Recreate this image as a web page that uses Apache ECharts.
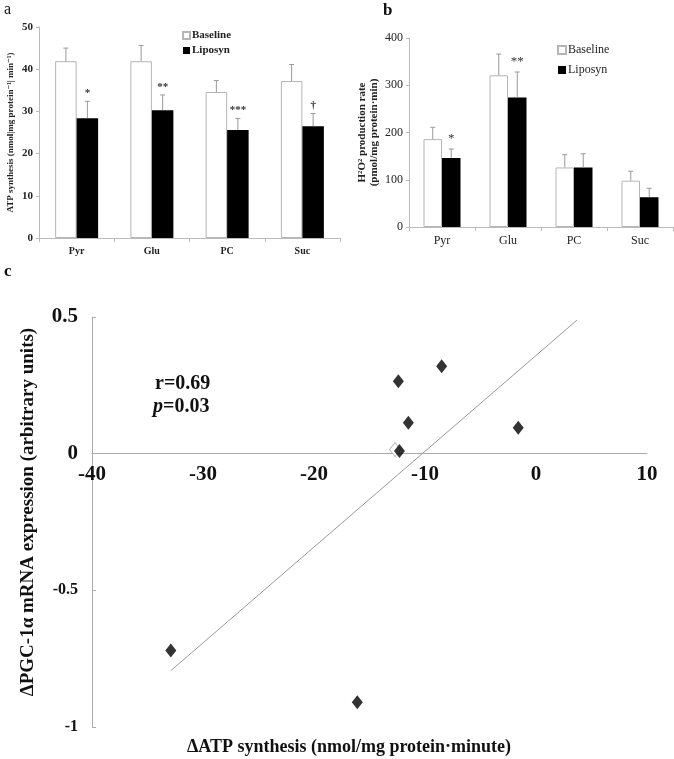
<!DOCTYPE html>
<html><head><meta charset="utf-8">
<script src="https://cdn.jsdelivr.net/npm/echarts@6/dist/echarts.min.js"></script>
<style>html,body{margin:0;padding:0;background:#fff}#c{width:674px;height:759px}</style>
</head><body><div id="c"></div>
<script>
// ---- data ----
const categories = ['Pyr','Glu','PC','Suc'];
const atpBaseline = [41.9, 41.9, 34.6, 37.2];
const atpBaselineErr = [45.0, 45.6, 37.3, 41.1];   // top of error bar
const atpLiposyn = [28.4, 30.3, 25.6, 26.5];
const atpLiposynErr = [32.4, 33.9, 28.3, 29.5];
const atpSig = ['*','**','***','\u2020'];

const h2o2Baseline = [186, 321, 126, 98];
const h2o2BaselineErr = [211, 366, 153, 118];
const h2o2Liposyn = [146, 274, 126, 63];
const h2o2LiposynErr = [165, 328, 155, 82];
const h2o2Sig = ['*','**','',''];

const deltaATP = [-12.4, -8.5, -11.5, -1.6, -12.3, -32.9, -16.1];
const deltaPGC = [0.265, 0.32, 0.113, 0.095, 0.01, -0.72, -0.909];
const ghostPoint = [[-12.7, 0.015]];
const trendRangeX = [-32.9, 3.7];

const aTicks = [0, 50, 10];
const bTicks = [0, 400, 100];
const cXTicks = [-40, 10, 10];
const cYTicks = [-1, 0.5, 0.5];

// ---- regression for trend line ----
const n = deltaATP.length;
const mx = deltaATP.reduce((s,v)=>s+v,0)/n, my = deltaPGC.reduce((s,v)=>s+v,0)/n;
let sxy=0, sxx=0;
for(let i=0;i<n;i++){sxy+=(deltaATP[i]-mx)*(deltaPGC[i]-my);sxx+=(deltaATP[i]-mx)**2;}
const slope = sxy/sxx, icpt = my - slope*mx;
const trendLine = trendRangeX.map(x=>[x, slope*x+icpt]);

const SERIF = '"Liberation Serif","DejaVu Serif",serif';
const chart = echarts.init(document.getElementById('c'), null, {renderer:'canvas'});

const gridC = {left:92, top:317, width:555, height:410};
const zeroOffset = -gridC.height * (0 - cYTicks[0]) / (cYTicks[1] - cYTicks[0]);

function errSeries(name, xIdx, yIdx, vals, tops, sign, bw, sig, sigFont, sigGap){
  return {
    type:'custom', name: name+'err', xAxisIndex:xIdx, yAxisIndex:yIdx, z:5,
    data: vals.map((v,i)=>[i, v, tops[i]]),
    renderItem(params, api){
      const i = api.value(0);
      const p0 = api.coord([i, api.value(1)]);
      const p1 = api.coord([i, api.value(2)]);
      const cx = p0[0] + sign*bw/2;
      const children = [
        {type:'line', shape:{x1:cx,y1:p0[1],x2:cx,y2:p1[1]}, style:{stroke:'#9a9a9a',lineWidth:1}},
        {type:'line', shape:{x1:cx-2.5,y1:p1[1],x2:cx+2.5,y2:p1[1]}, style:{stroke:'#9a9a9a',lineWidth:1}}
      ];
      if(sig && sig[params.dataIndex]){
        children.push({type:'text', style:{text:sig[params.dataIndex], x:cx, y:p1[1]-sigGap,
          textAlign:'center', textVerticalAlign:'middle', font:sigFont, fill:'#333'}});
      }
      return {type:'group', children};
    }
  };
}

const option = {
  animation:false,
  backgroundColor:'#fff',
  grid:[
    {left:39, top:27, width:301, height:211},
    {left:409, top:38, width:264, height:189},
    gridC
  ],
  legend:[
    {data:['Baseline','Liposyn'], orient:'vertical', left:177, top:25, itemWidth:7, itemHeight:7, itemGap:4,
     textStyle:{fontFamily:SERIF, fontWeight:'bold', fontSize:11, color:'#222', padding:[0,0,0,-3]}, icon:'rect', selectedMode:false},
    {data:['Baseline ','Liposyn '], orient:'vertical', left:552, top:39, itemWidth:8, itemHeight:8, itemGap:8,
     textStyle:{fontFamily:SERIF, fontSize:12, color:'#222', padding:[0,0,0,-3]}, icon:'rect', selectedMode:false}
  ],
  xAxis:[
    {gridIndex:0, type:'category', data:categories,
     axisLine:{lineStyle:{color:'#bbb'}}, axisTick:{show:true, length:4, lineStyle:{color:'#bbb'}},
     axisLabel:{fontFamily:SERIF, fontWeight:'bold', fontSize:10, color:'#222', margin:8}},
    {gridIndex:1, type:'category', data:categories,
     axisLine:{lineStyle:{color:'#bbb'}}, axisTick:{show:true, length:4, lineStyle:{color:'#bbb'}},
     axisLabel:{fontFamily:SERIF, fontSize:12, color:'#222', margin:8}},
    {gridIndex:2, type:'value', min:cXTicks[0], max:cXTicks[1], interval:cXTicks[2], position:'bottom', offset:zeroOffset,
     axisLine:{onZero:false, lineStyle:{color:'#aaa'}}, axisTick:{show:false}, splitLine:{show:false},
     axisLabel:{fontFamily:SERIF, fontWeight:'bold', fontSize:21, color:'#111', margin:10}}
  ],
  yAxis:[
    {gridIndex:0, type:'value', min:aTicks[0], max:aTicks[1], interval:aTicks[2],
     axisLine:{show:true, lineStyle:{color:'#bbb'}}, axisTick:{show:true, length:3, lineStyle:{color:'#bbb'}}, splitLine:{show:false},
     axisLabel:{fontFamily:SERIF, fontWeight:'bold', fontSize:11, color:'#222', margin:6},
     name:'ATP synthesis (nmol|mg protein\u207B\u00B9| min\u207B\u00B9)', nameLocation:'middle', nameGap:24, nameRotate:90,
     nameTextStyle:{fontFamily:SERIF, fontWeight:'bold', fontSize:9, color:'#222'}},
    {gridIndex:1, type:'value', min:bTicks[0], max:bTicks[1], interval:bTicks[2],
     axisLine:{show:true, lineStyle:{color:'#bbb'}}, axisTick:{show:true, length:3, lineStyle:{color:'#bbb'}}, splitLine:{show:false},
     axisLabel:{fontFamily:SERIF, fontSize:12, color:'#222', margin:6},
     name:'H\u00B2O\u00B2 production rate\n(pmol/mg protein\u00B7min)', nameLocation:'middle', nameGap:29, nameRotate:90,
     nameTextStyle:{fontFamily:SERIF, fontWeight:'bold', fontSize:11, color:'#222', lineHeight:12}},
    {gridIndex:2, type:'value', min:cYTicks[0], max:cYTicks[1], interval:cYTicks[2],
     axisLine:{show:true, onZero:false, lineStyle:{color:'#aaa'}}, axisTick:{show:true, inside:true, length:4, lineStyle:{color:'#aaa'}}, splitLine:{show:false},
     axisLabel:{margin:14, formatter:v=> (v>=0 ? '{b|'+v+'}' : '{s|'+v+'}'),
       rich:{b:{fontFamily:SERIF, fontWeight:'bold', fontSize:21, color:'#111'}, s:{fontFamily:SERIF, fontWeight:'bold', fontSize:16, color:'#111'}}}}
  ],
  series:[
    {type:'bar', name:'Baseline', xAxisIndex:0, yAxisIndex:0, data:atpBaseline, barWidth:21.5, barGap:'0%',
     itemStyle:{color:'#fff', borderColor:'#b5b5b5', borderWidth:1}},
    {type:'bar', name:'Liposyn', xAxisIndex:0, yAxisIndex:0, data:atpLiposyn, barWidth:21.5, barGap:'0%',
     itemStyle:{color:'#000'}},
    errSeries('a0',0,0,atpBaseline,atpBaselineErr,-1,21.5,null),
    errSeries('a1',0,0,atpLiposyn,atpLiposynErr,1,21.5,atpSig,'bold 11px '+SERIF,8),
    {type:'bar', name:'Baseline ', xAxisIndex:1, yAxisIndex:1, data:h2o2Baseline, barWidth:18.5, barGap:'0%',
     itemStyle:{color:'#fff', borderColor:'#b5b5b5', borderWidth:1}},
    {type:'bar', name:'Liposyn ', xAxisIndex:1, yAxisIndex:1, data:h2o2Liposyn, barWidth:18.5, barGap:'0%',
     itemStyle:{color:'#000'}},
    errSeries('b0',1,1,h2o2Baseline,h2o2BaselineErr,-1,18.5,null),
    errSeries('b1',1,1,h2o2Liposyn,h2o2LiposynErr,1,18.5,h2o2Sig,'13px '+SERIF,10),
    {type:'line', name:'trend', xAxisIndex:2, yAxisIndex:2, data:trendLine, showSymbol:false, symbol:'none',
     lineStyle:{color:'#999', width:1}, z:1},
    {type:'scatter', name:'ghost', xAxisIndex:2, yAxisIndex:2, data:ghostPoint, symbol:'diamond', symbolSize:[11,14],
     itemStyle:{color:'#fff', borderColor:'#aaa', borderWidth:1}, z:2},
    {type:'scatter', name:'pts', xAxisIndex:2, yAxisIndex:2, data:deltaATP.map((x,i)=>[x, deltaPGC[i]]),
     symbol:'diamond', symbolSize:[11,14], itemStyle:{color:'#000'}, z:3}
  ],
  graphic:[
    {type:'text', left:4, top:2, style:{text:'a', font:'16px '+SERIF, fill:'#111'}},
    {type:'text', left:383, top:2, style:{text:'b', font:'bold 17px '+SERIF, fill:'#111'}},
    {type:'text', left:4, top:263, style:{text:'c', font:'bold 17px '+SERIF, fill:'#111'}},
    {type:'text', left:155, top:374, style:{text:'r=0.69', font:'bold 20px '+SERIF, fill:'#111'}},
    {type:'text', left:153, top:397, style:{rich:{i:{fontFamily:SERIF, fontStyle:'italic', fontWeight:'bold', fontSize:20, fill:'#111'}, n:{fontFamily:SERIF, fontWeight:'bold', fontSize:20, fill:'#111'}}, text:'{i|p}{n|=0.03}'}},
    {type:'text', x:28, y:512, rotation:Math.PI/2, style:{text:'\u0394PGC-1\u03B1 mRNA expression (arbitrary units)', font:'bold 19px '+SERIF, fill:'#111', textAlign:'center', textVerticalAlign:'middle'}},
    {type:'text', x:349, y:747, style:{text:'\u0394ATP synthesis (nmol/mg protein\u00B7minute)', font:'bold 18px '+SERIF, fill:'#111', textAlign:'center', textVerticalAlign:'middle'}}
  ]
};
chart.setOption(option);
</script></body></html>
